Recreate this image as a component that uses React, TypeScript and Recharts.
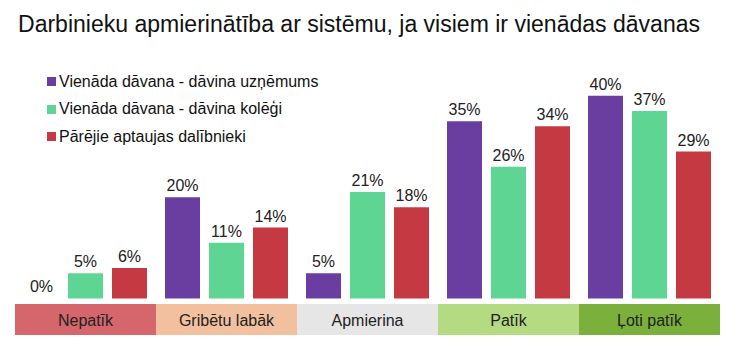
import React from 'react';
import { BarChart, Bar, XAxis, YAxis, LabelList } from 'recharts';

const categories = ['Nepatīk', 'Gribētu labāk', 'Apmierina', 'Patīk', 'Ļoti patīk'];
const uznemums = [0, 20, 5, 35, 40];
const kolegi = [5, 11, 21, 26, 37];
const parejie = [6, 14, 18, 34, 29];
const seriesNames = [
  'Vienāda dāvana - dāvina uzņēmums',
  'Vienāda dāvana - dāvina kolēģi',
  'Pārējie aptaujas dalībnieki',
];
const seriesColors = ['#6a3ea1', '#5fd593', '#c53a42'];
const categoryColors = ['#d4666c', '#f3c09f', '#e6e6e6', '#b4da82', '#7bb03c'];
const title = 'Darbinieku apmierinātība ar sistēmu, ja visiem ir vienādas dāvanas';

const data = categories.map((c, i) => ({
  cat: c,
  s0: uznemums[i],
  s1: kolegi[i],
  s2: parejie[i],
}));

const W = 749;
const H = 352;
const margin = { top: 70.5, right: 29, bottom: 13.5, left: 15 };
const bandW = (W - margin.left - margin.right) / categories.length;
const FONT = 'Liberation Sans, Arial, sans-serif';

const CategoryTick = (props: any) => {
  const { x, y, payload } = props;
  const i = categories.indexOf(payload.value);
  return (
    <g>
      <rect x={x - bandW / 2} y={y + 5.5} width={bandW} height={31} fill={categoryColors[i]} />
      <text x={x} y={y + 27} textAnchor="middle" fontSize={16} fill="#222" fontFamily={FONT}>
        {payload.value}
      </text>
    </g>
  );
};

const fmt = (v: any) => `${v}%`;

export default function App() {
  return (
    <div style={{ position: 'absolute', left: 0, top: 0, width: W, height: H, background: '#fff' }}>
      <div style={{ position: 'absolute', left: 0, top: 0 }}>
        <BarChart width={W} height={H} data={data} margin={margin} barCategoryGap={9} barGap={9}>
          <XAxis
            dataKey="cat"
            axisLine={false}
            tickLine={false}
            tickSize={0}
            tickMargin={0}
            height={40}
            interval={0}
            tick={<CategoryTick />}
          />
          <YAxis hide domain={[0, 45]} />
          {['s0', 's1', 's2'].map((k, i) => (
            <Bar
              key={k}
              dataKey={k}
              name={seriesNames[i]}
              fill={seriesColors[i]}
              minPointSize={0.01}
              isAnimationActive={false}
            >
              <LabelList dataKey={k} position="top" offset={6} formatter={fmt} fontSize={16} fill="#222" fontFamily={FONT} />
            </Bar>
          ))}
        </BarChart>
      </div>
      <svg width={W} height={45} style={{ position: 'absolute', left: 0, top: 0 }}>
        <text x={18} y={32} fontSize={23} fill="#111" fontFamily={FONT} textLength={682} lengthAdjust="spacingAndGlyphs">
          {title}
        </text>
      </svg>
      <div style={{ position: 'absolute', left: 47, top: 68, fontFamily: FONT, fontSize: 16, color: '#111' }}>
        {seriesNames.map((n, i) => (
          <div key={n} style={{ display: 'flex', alignItems: 'center', height: 27.5, whiteSpace: 'nowrap' }}>
            <span style={{ display: 'inline-block', width: 9, height: 9, background: seriesColors[i], marginRight: 3 }} />
            <span>{n}</span>
          </div>
        ))}
      </div>
    </div>
  );
}
